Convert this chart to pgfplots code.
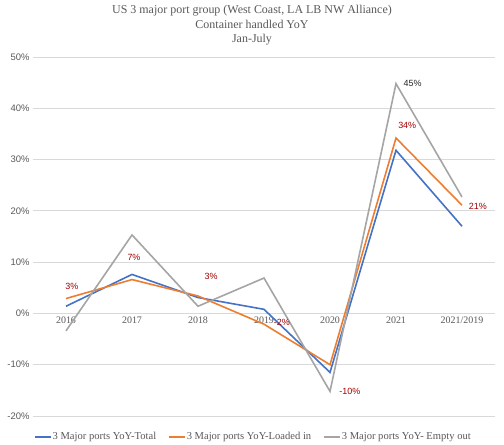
\documentclass[border=0pt]{standalone}
\usepackage{pgfplots}
\pgfplotsset{compat=1.18}
\usepackage{fontspec}
\setmainfont{Liberation Serif}
\newfontfamily\sansf{Liberation Sans}
\definecolor{cblue}{HTML}{4472C4}
\definecolor{corange}{HTML}{ED7D31}
\definecolor{cgray}{HTML}{A5A5A5}
\definecolor{cgrid}{HTML}{D9D9D9}
\definecolor{ctxt}{HTML}{595959}
\definecolor{clab}{HTML}{A00000}
\begin{document}
\begin{tikzpicture}
\begin{axis}[
  scale only axis, width=462bp, height=359bp,
  xmin=-0.5, xmax=6.5, ymin=-20, ymax=50,
  axis x line*=middle, axis y line*=left,
  x axis line style={draw=cgrid, line width=0.75bp},
  y axis line style={draw=none},
  major tick length=0,
  xtick={0,...,6},
  xticklabels={2016,2017,2018,2019,2020,2021,2021/2019},
  xticklabel style={font=\fontsize{10}{12}\selectfont, text=ctxt},
  ytick={-20,-10,...,50},
  yticklabel={\pgfmathprintnumber{\tick}\%},
  yticklabel style={font=\sansf\fontsize{9.5}{11}\selectfont, text=ctxt},
  /pgf/number format/assume math mode=true,
  ymajorgrids, grid style={draw=cgrid, line width=0.75bp},
  clip=false,
  legend columns=3,
  legend style={at={(0.476,-0.0585)}, anchor=center, draw=none, fill=none,
    font=\fontsize{10.6}{12}\selectfont, text=ctxt,
    /tikz/every even column/.append style={column sep=11bp},
    nodes={inner sep=1bp}},
  legend image code/.code={\draw[#1] (0bp,0bp) -- (16bp,0bp);},
  every axis plot/.append style={line width=1.6bp, mark=none},
]
\addplot[cblue] coordinates {(0,1.4) (1,7.6) (2,3.1) (3,0.8) (4,-11.5) (5,31.8) (6,17.0)};
\addplot[corange] coordinates {(0,2.9) (1,6.6) (2,3.4) (3,-2.1) (4,-10.0) (5,34.2) (6,21.1)};
\addplot[cgray] coordinates {(0,-3.4) (1,15.3) (2,1.4) (3,6.9) (4,-15.2) (5,44.8) (6,22.7)};
\legend{3 Major ports YoY-Total,3 Major ports YoY-Loaded in,3 Major ports YoY- Empty out}
\begin{scope}[every node/.style={font=\sansf\fontsize{9}{10}\selectfont, text=clab, inner sep=0pt}]
\node at (axis cs:0.09,5.3) {3\%};
\node at (axis cs:1.03,10.9) {7\%};
\node at (axis cs:2.2,7.2) {3\%};
\node at (axis cs:3.27,-1.8) {-2\%};
\node at (axis cs:4.3,-15.2) {-10\%};
\node at (axis cs:5.17,36.6) {34\%};
\node at (axis cs:6.24,20.9) {21\%};
\node[text=black!85] at (axis cs:5.25,44.8) {45\%};
\end{scope}
\end{axis}
\node[align=center, text=ctxt, font=\fontsize{12}{14.5}\selectfont] at ([shift={(219bp,31.5bp)}]current axis.north west)
  {US 3 major port group (West Coast, LA LB NW Alliance)\\Container handled YoY\\Jan-July};
\path ([shift={(-33bp,-29bp)}]current axis.south west) rectangle ([shift={(9bp,57bp)}]current axis.north east);
\end{tikzpicture}
\end{document}
